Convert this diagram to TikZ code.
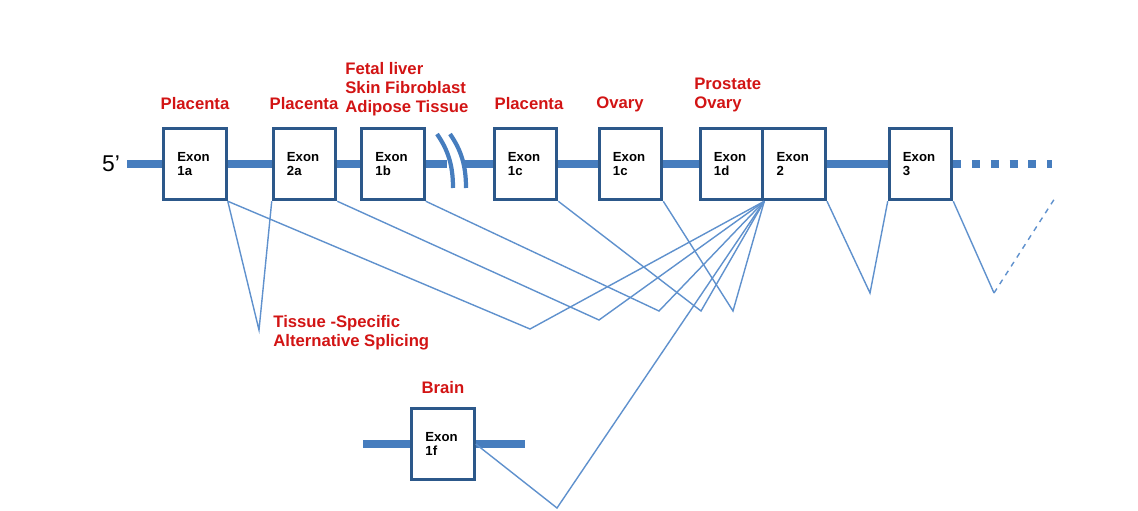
\documentclass[tikz,border=0pt]{standalone}
\usepackage{fontspec}
\setmainfont{Liberation Sans}
\usetikzlibrary{positioning}

\definecolor{boxblue}{RGB}{44,88,138}
\definecolor{barblue}{RGB}{70,125,190}
\definecolor{lineblue}{RGB}{95,145,205}
\definecolor{tissuered}{RGB}{210,20,20}

\begin{document}
\begin{tikzpicture}[x=0.02cm,y=-0.02cm,
  exon/.style={draw=boxblue,line width=1.6pt,fill=white,minimum width=35.7pt,minimum height=40.8pt,
    text width=20pt,align=left,inner sep=0pt,font=\fontsize{7.5}{7.6}\selectfont\bfseries},
  tissue/.style={text=tissuered,align=left,inner sep=0pt,font=\fontsize{9.5}{10.8}\selectfont\bfseries},
  bar/.style={draw=barblue,line width=4.5pt},
  splice/.style={draw=lineblue,line width=0.8pt}]
\useasboundingbox (0,0) rectangle (1138,510);

% exons on the main transcript
\node[exon] (e1a) at (195,164) {Exon\\1a};
\node[exon] (e2a) at (304.5,164) {Exon\\2a};
\node[exon] (e1b) at (393,164) {Exon\\1b};
\node[exon] (e1cp) at (525.5,164) {Exon\\1c};
\node[exon] (e1co) at (630.5,164) {Exon\\1c};
\node[exon] (e1d) at (731.5,164) {Exon\\1d};
\node[exon,right=-1.6pt of e1d] (e2) {Exon\\2};
\node[exon] (e3) at (920.5,164) {Exon\\3};
\node[exon] (e1f) at (443,444) {Exon\\1f};

% tissues
\node[tissue] (p1a) at (195,104) {Placenta};
\node[tissue] (p2a) at (304,104) {Placenta};
\node[tissue,anchor=west] (p1b) at (345,89) {Fetal liver\\Skin Fibroblast\\Adipose Tissue};
\node[tissue] (p1cp) at (529,104) {Placenta};
\node[tissue] (p1co) at (620,104) {Ovary};
\node[tissue,anchor=west] (p1d) at (694,95) {Prostate\\Ovary};
\node[tissue] (pbr) at (443,388) {Brain};
\node[tissue,anchor=west] (tsas) at (273,333) {Tissue -Specific\\Alternative Splicing};
\node[font=\fontsize{13}{13}\selectfont,inner sep=0pt] (five) at (111,164) {5’};

% backbone
\coordinate (start) at (127,164);
\coordinate (brkl) at (447,164);
\coordinate (brkr) at (463,164);
\coordinate (dots) at (1052,164);
\coordinate (fl) at (363,444);
\coordinate (fr) at (525,444);
\draw[bar] (start) -- (e1a);
\draw[bar] (e1a) -- (e2a);
\draw[bar] (e2a) -- (e1b);
\draw[bar] (e1b) -- (brkl);
\draw[bar] (brkr) -- (e1cp);
\draw[bar] (e1cp) -- (e1co);
\draw[bar] (e1co) -- (e1d);
\draw[bar] (e2) -- (e3);
\draw[bar,dash pattern=on 4.5pt off 6.2pt] (e3) -- (dots);
\draw[bar] (fl) -- (e1f);
\draw[bar] (e1f) -- (fr);
\draw[barblue,line width=2.4pt] (437,134) .. controls (448,150) and (453,165) .. (453,188);
\draw[barblue,line width=2.4pt] (450,134) .. controls (461,150) and (466,165) .. (466,188);

% splicing
\coordinate (v1) at (259,330);
\coordinate (v2) at (530,329);
\coordinate (v3) at (599,320);
\coordinate (v4) at (659,311);
\coordinate (v5) at (701,311);
\coordinate (v6) at (733,311);
\coordinate (v7) at (557,508);
\coordinate (v8) at (870,293);
\coordinate (v9) at (994,293);
\coordinate (dend) at (1055,198);
\draw[splice] (e1a.south east) -- (v1) -- (e2a.south west);
\draw[splice] (e1a.south east) -- (v2) -- (e1d.south east);
\draw[splice] (e2a.south east) -- (v3) -- (e1d.south east);
\draw[splice] (e1b.south east) -- (v4) -- (e1d.south east);
\draw[splice] (e1cp.south east) -- (v5) -- (e1d.south east);
\draw[splice] (e1co.south east) -- (v6) -- (e1d.south east);
\draw[splice] (e1f.east) -- (v7) -- (e1d.south east);
\draw[splice] (e2.south east) -- (v8) -- (e3.south west);
\draw[splice] (e3.south east) -- (v9);
\draw[splice,dashed] (v9) -- (dend);
\end{tikzpicture}
\end{document}
